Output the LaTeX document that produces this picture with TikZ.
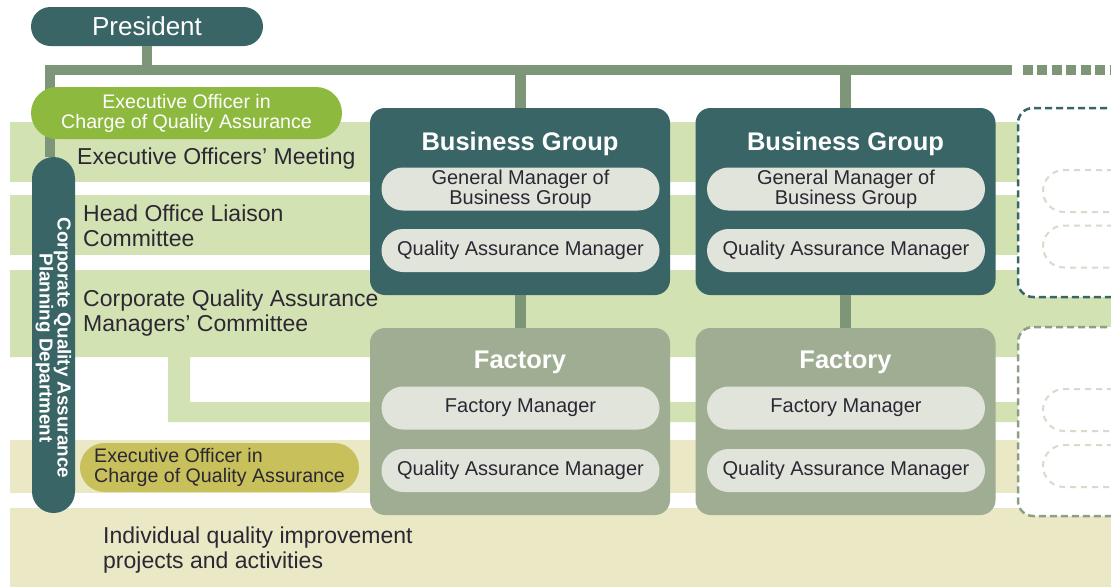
\documentclass[tikz,border=0pt]{standalone}
\usepackage{fontspec}
\setmainfont{Liberation Sans}
\usepackage{tikz}
\usetikzlibrary{positioning}
\definecolor{qaTeal}{HTML}{3A6567}
\definecolor{qaLine}{HTML}{7E9678}
\definecolor{qaFactory}{HTML}{9FAD93}
\definecolor{qaPill}{HTML}{E1E4DB}
\definecolor{qaBand}{HTML}{D3E2B3}
\definecolor{qaField}{HTML}{EBE8C6}
\definecolor{qaGreen}{HTML}{8DBA3E}
\definecolor{qaOlive}{HTML}{C8C05B}
\definecolor{qaText}{HTML}{2B2833}
\definecolor{qaGhost}{HTML}{8E9F87}
\definecolor{qaGhostPill}{HTML}{D5DCCB}
\tikzstyle{band}=[fill=qaBand]
\tikzstyle{fieldband}=[fill=qaField]
\tikzstyle{orgedge}=[draw=qaLine,line width=10pt]
\tikzstyle{branchedge}=[draw=qaLine,line width=11pt]
\tikzstyle{president}=[shape=rectangle,fill=qaTeal,text=white,minimum width=232pt,minimum height=39pt,rounded corners=19.5pt,inner sep=0pt,font=\fontsize{26}{28}\selectfont]
\tikzstyle{dept}=[shape=rectangle,fill=qaTeal,minimum width=43pt,minimum height=356pt,rounded corners=21.5pt,inner sep=0pt]
\tikzstyle{deptname}=[rotate=-90,text=white,align=center,inner sep=0pt,font=\bfseries\fontsize{18.8}{18}\selectfont]
\tikzstyle{officer}=[shape=rectangle,minimum width=311pt,minimum height=52pt,rounded corners=26pt,align=center,inner sep=0pt,font=\fontsize{19.6}{20}\selectfont]
\tikzstyle{bandtext}=[anchor=west,align=left,text=qaText,inner sep=0pt,font=\fontsize{23}{25}\selectfont]
\tikzstyle{groupbox}=[shape=rectangle,fill=qaTeal,minimum width=300pt,minimum height=187pt,rounded corners=15pt]
\tikzstyle{factorybox}=[groupbox,fill=qaFactory]
\tikzstyle{title}=[anchor=base,text=white,inner sep=0pt,font=\bfseries\fontsize{25.5}{28}\selectfont]
\tikzstyle{role}=[shape=rectangle,fill=qaPill,text=qaText,minimum width=278pt,minimum height=43pt,rounded corners=21.5pt,align=center,inner sep=0pt,font=\fontsize{20}{20}\selectfont]
\tikzstyle{ghostbox}=[shape=rectangle,draw=qaTeal,fill=white,line width=2.5pt,dash pattern=on 7pt off 4pt,minimum width=302pt,minimum height=189pt,rounded corners=15pt]
\tikzstyle{ghostpill}=[shape=rectangle,draw=qaGhostPill,line width=2pt,dash pattern=on 6pt off 5pt,minimum width=278pt,minimum height=42pt,rounded corners=21pt]

\begin{document}
\begin{tikzpicture}[x=1pt,y=-1pt]
\useasboundingbox (0,0) rectangle (1111,587);
\clip (0,0) rectangle (1111,587);

% committee bands
\fill[band] (10,122) rectangle (1111,182);
\fill[band] (10,195) rectangle (1111,255);
\fill[band] (10,270) -- (1111,270) -- (1111,357) -- (190,357) -- (190,402) -- (1111,402) -- (1111,422) -- (168,422) -- (168,357) -- (10,357) -- cycle;
\fill[fieldband] (10,440) rectangle (1111,493);
\fill[fieldband] (10,508) rectangle (1111,587);

% main line
\coordinate (bus_l) at (50,70);
\coordinate (bus_r) at (1012,70);
\coordinate (bus_d) at (1022.5,70);
\coordinate (bus_e) at (1111,70);
\draw[orgedge,dash pattern=on 10pt off 4.5pt] (bus_d) -- (bus_e);

% top and left column
\node[president] (pres) at (147,26.5) {President} edge[orgedge] (pres.south |- bus_r);
\node[dept] (cqapd) at (53.5,335) {};
\draw[orgedge,line join=miter] (cqapd.north -| bus_l) -- (bus_l) -- (bus_r);
\node[deptname] (cqapd_t) at ([yshift=-13pt]cqapd.center) {Corporate Quality Assurance\\Planning Department};
\node[officer,fill=qaGreen,text=white] (eo_top) at (186.5,113) {Executive Officer in\\Charge of Quality Assurance};
\node[officer,fill=qaOlive,text=qaText,align=left,minimum width=279pt,minimum height=49pt,rounded corners=24.5pt] (eo_bot) at (219.5,467.5) {Executive Officer in\\Charge of Quality Assurance};

\node[bandtext] (meet) at (77,159) {Executive Officers’ Meeting};
\node[bandtext] (liaison) at (83,225.5) {Head Office Liaison\\Committee};
\node[bandtext] (qamc) at (83,313) {Corporate Quality Assurance\\Managers’ Committee};
\node[bandtext] (projects) at (103,550) {Individual quality improvement\\projects and activities};

% 1st column
\node[groupbox] (bg1) at (520,201.5) {} edge[branchedge] (bg1.north |- bus_r);
\node[title] (bg1_t) at (520,150.5) {Business Group};
\node[role] (bg1_gm) at (520.5,189) {General Manager of\\Business Group};
\node[role] (bg1_qa) at (520.5,250.5) {Quality Assurance Manager};
\node[factorybox] (fac1) at (520,421.5) {} edge[branchedge] (bg1);
\node[title] (fac1_t) at (520,368) {Factory};
\node[role] (fac1_fm) at (520.5,408) {Factory Manager};
\node[role] (fac1_qa) at (520.5,470.5) {Quality Assurance Manager};

% 2nd column
\node[groupbox] (bg2) at (845.5,201.5) {} edge[branchedge] (bg2.north |- bus_r);
\node[title] (bg2_t) at (845.5,150.5) {Business Group};
\node[role] (bg2_gm) at (846,189) {General Manager of\\Business Group};
\node[role] (bg2_qa) at (846,250.5) {Quality Assurance Manager};
\node[factorybox] (fac2) at (845.5,421.5) {} edge[branchedge] (bg2);
\node[title] (fac2_t) at (845.5,368) {Factory};
\node[role] (fac2_fm) at (846,408) {Factory Manager};
\node[role] (fac2_qa) at (846,470.5) {Quality Assurance Manager};

% 3rd column (cut off)
\node[ghostbox] (bg3) at (1169,202.5) {};
\node[ghostpill] (bg3_gm) at (1182,191) {};
\node[ghostpill] (bg3_qa) at (1182,246.5) {};
\node[ghostbox,draw=qaGhost] (fac3) at (1169,421.5) {};
\node[ghostpill] (fac3_fm) at (1182,410) {};
\node[ghostpill] (fac3_qa) at (1182,466) {};

\end{tikzpicture}
\end{document}
